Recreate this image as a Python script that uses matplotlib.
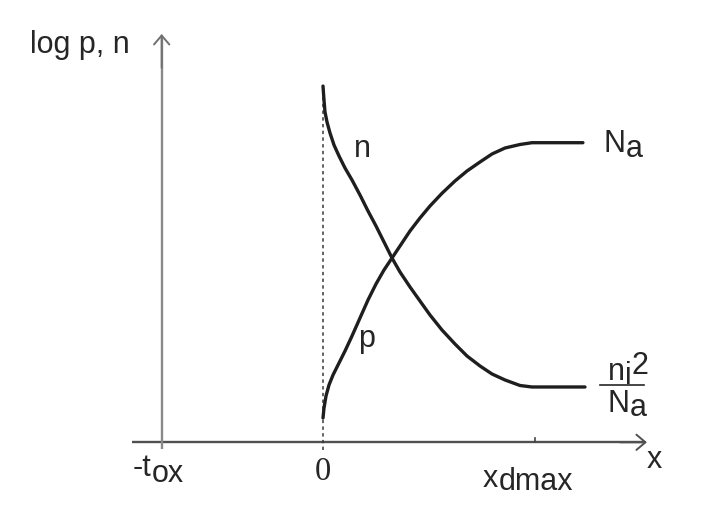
import matplotlib
matplotlib.use("Agg")
import matplotlib.pyplot as plt

# ---- data (x in units of xdmax, y in log units normalised to log Na = 1) ----
n_x = [0.0, 0.0047, 0.0094, 0.0189, 0.033, 0.0519, 0.0755, 0.1038, 0.1368,
       0.1745, 0.2123, 0.25, 0.2877, 0.3255, 0.3632, 0.4104, 0.4575, 0.5047,
       0.5613, 0.6226, 0.6792, 0.7406, 0.7972, 0.8585, 0.9292, 0.9858, 1.2358]
n_y = [1.189, 1.1425, 1.1025, 1.069, 1.0324, 0.9923, 0.9556, 0.9155, 0.8755,
       0.8254, 0.772, 0.722, 0.6686, 0.6151, 0.5684, 0.5184, 0.4716, 0.4249,
       0.3748, 0.3281, 0.2881, 0.2547, 0.228, 0.208, 0.1896, 0.1846, 0.1846]
p_x = [0.0, 0.0047, 0.0142, 0.0283, 0.0472, 0.0708, 0.1038, 0.1368, 0.1745,
       0.2123, 0.25, 0.2877, 0.3255, 0.3632, 0.4104, 0.4575, 0.5047, 0.5613,
       0.6226, 0.6792, 0.7406, 0.7972, 0.8585, 0.9292, 0.9858, 1.226]
p_y = [0.0811, 0.1145, 0.1545, 0.1913, 0.2246, 0.258, 0.3047, 0.3548, 0.4149,
       0.475, 0.5284, 0.5751, 0.6151, 0.6552, 0.7053, 0.7487, 0.7887, 0.8311,
       0.8722, 0.9055, 0.9356, 0.9623, 0.9823, 0.994, 1.0, 1.0]
x_marks = [-0.761, 0.0, 1.0]          # -tox, 0, xdmax
x_tick_labels = ["-tox", "0", "xdmax"]

SANS = "Liberation Sans"
SERIF = "Liberation Serif"
FS = 22
TC = "#262626"

fig = plt.figure(figsize=(7.11, 5.18), dpi=100)
ax = fig.add_axes([0, 0, 1, 1])
ax.set_xlim(-1.5236, 1.8302)
ax.set_ylim(-0.2527, 1.4763)
ax.axis("off")

# axes arrows
ax.plot([-0.901, 1.52], [0, 0], color="#505050", lw=1.7, solid_capstyle="butt")
ax.annotate("", xy=(1.528, 0), xytext=(1.40, 0),
            arrowprops=dict(arrowstyle="->,head_length=0.65,head_width=0.55",
                            color="#505050", lw=1.4, mutation_scale=10,
                            shrinkA=0, shrinkB=0))
ax.plot([x_marks[0], x_marks[0]], [-0.022, 1.35], color="#8a8a8a", lw=1.7,
        solid_capstyle="butt")
ax.annotate("", xy=(x_marks[0], 1.363), xytext=(x_marks[0], 1.25),
            arrowprops=dict(arrowstyle="->,head_length=0.65,head_width=0.55",
                            color="#707070", lw=1.4, mutation_scale=10,
                            shrinkA=0, shrinkB=0))
# xdmax tick
ax.plot([x_marks[2], x_marks[2]], [0, 0.015], color="#444444", lw=1.2)
# dashed line at x = 0
ax.plot([x_marks[1], x_marks[1]], [-0.026, 1.19], color="#383838", lw=1.1,
        ls=(0, (2.2, 2.2)))

# curves
ax.plot(n_x, n_y, color="#1e1e1e", lw=2.4, solid_joinstyle="round",
        solid_capstyle="round")
ax.plot(p_x, p_y, color="#1e1e1e", lw=2.4, solid_joinstyle="round",
        solid_capstyle="round")


def chain(parts, x, y, family=SANS, size=FS):
    """parts: list of (text, dy_pixels)."""
    prev = None
    for s, dy in parts:
        if prev is None:
            prev = ax.annotate(s, xy=(x, y), xycoords="data",
                               xytext=(0, dy), textcoords="offset pixels",
                               ha="left", va="baseline", family=family,
                               fontsize=size, color=TC)
        else:
            prev = ax.annotate(s, xy=(1, y), xycoords=(prev, "data"),
                               xytext=(0, dy), textcoords="offset pixels",
                               ha="left", va="baseline", family=family,
                               fontsize=size, color=TC)
    return prev


chain([("log p, n", 0)], -1.382, 1.2994)
chain([("-t", 0), ("ox", -5.5)], -0.896, -0.114)
ax.text(x_marks[1], -0.126, x_tick_labels[1], ha="center", va="baseline",
        family=SERIF, fontsize=23.5, color=TC)
chain([("x", 3), ("dmax", 0)], 0.755, -0.159)
chain([("x", 0)], 1.528, -0.0855)
ax.text(0.184, 0.952, "n", ha="center", va="baseline", family=SANS,
        fontsize=FS, color=TC)
ax.text(0.165, 0.318, "p", ha="left", va="baseline", family=SANS,
        fontsize=FS, color=TC)
chain([("N", 0), ("a", -5)], 1.325, 0.970)
# fraction ni^2 / Na
chain([("n", 0), ("i", -4), ("2", 6)], 1.343, 0.208)
ax.plot([1.307, 1.514], [0.190, 0.190], color=TC, lw=1.2)
chain([("N", 0), ("a", -4)], 1.343, 0.1027)

fig.savefig("out.png", dpi=100)
